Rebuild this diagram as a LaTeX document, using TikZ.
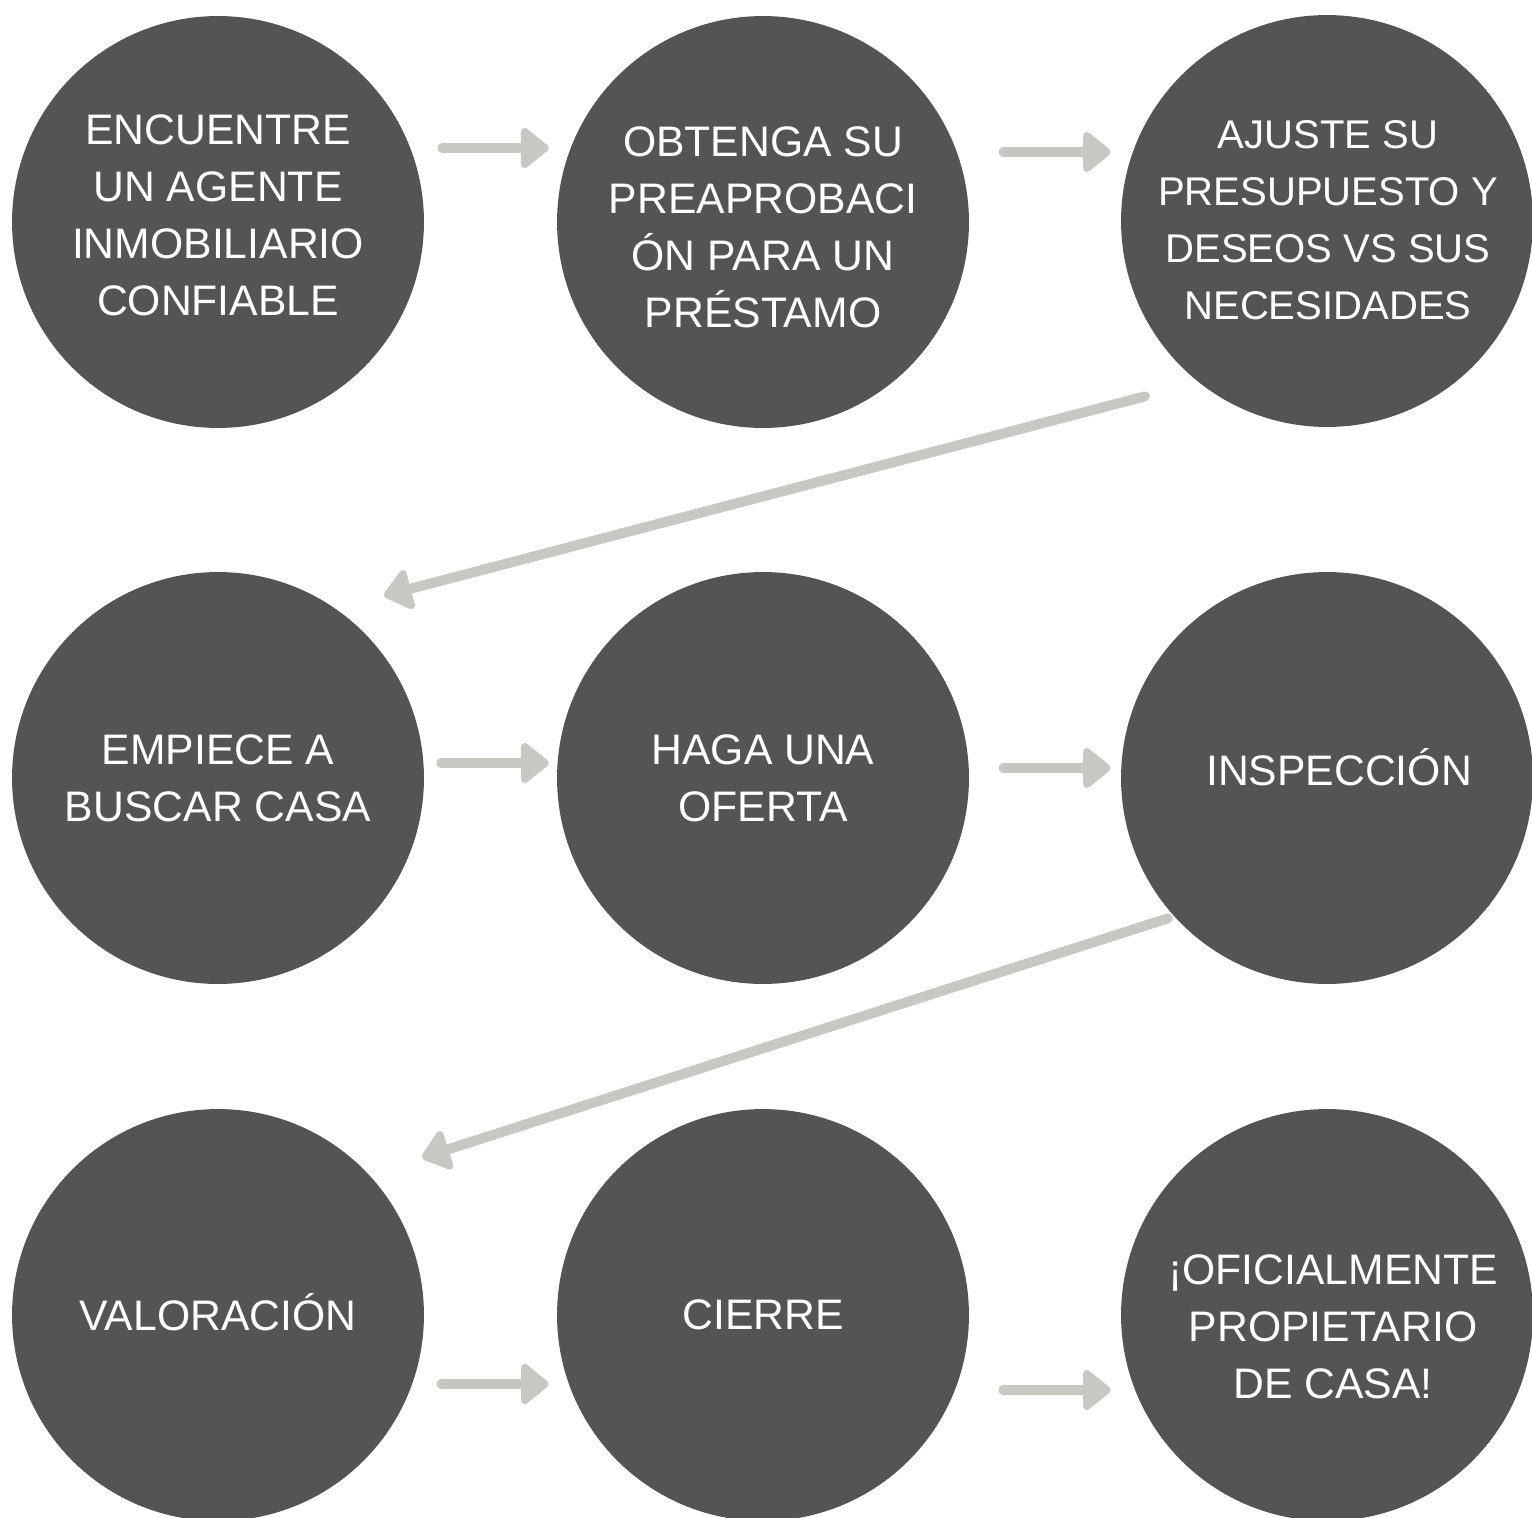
\documentclass[tikz,border=0pt]{standalone}
\usepackage{fontspec}
\setmainfont{Liberation Sans}
\usepackage{tikz}
\usetikzlibrary{arrows.meta,calc,positioning}
\definecolor{gris}{HTML}{545454}
\definecolor{claro}{HTML}{C8C7C2}

\tikzset{
  paso/.style={circle,fill=gris,minimum size=8.24cm,inner sep=0pt},
  txt/.style={text=white,align=center,inner sep=0pt,font=\fontsize{24.3}{32.4}\selectfont},
  txtchico/.style={txt,font=\fontsize{22.8}{32.4}\selectfont},
  flecha/.style={claro,line width=0.2cm,line cap=round,
    -{Triangle[round,length=0.6cm,width=0.92cm]}}
}

\begin{document}
\begin{tikzpicture}[x=0.02cm,y=-0.02cm]
  \useasboundingbox (0,0) rectangle (1532,1518);
  \foreach \n/\x/\y/\dx/\dy/\s/\t in {c1/218/222/0/-7/txt/{ENCUENTRE\\UN AGENTE\\INMOBILIARIO\\CONFIABLE},
      c2/763/222/0/5/txt/{OBTENGA SU\\PREAPROBACI\\ÓN PARA UN\\PRÉSTAMO},
      c3/1327/221/1/-1/txtchico/{AJUSTE SU\\PRESUPUESTO Y\\DESEOS VS SUS\\NECESIDADES},
      c4/218/778/0/0/txt/{EMPIECE A\\BUSCAR CASA},
      c5/763/778/0/0/txt/{HAGA UNA\\OFERTA},
      c6/1327/778/12/-11/txt/{INSPECCIÓN},
      c7/218/1315/0/-3/txt/{VALORACIÓN},
      c8/763/1315/0/0/txt/{CIERRE},
      c9/1327/1315/6/12/txt/{¡OFICIALMENTE\\PROPIETARIO\\DE CASA!}}{
    \node[paso] (\n) at (\x,\y) {};
    \node[\s] (\n t) at ($(\n)+(\dx,\dy)$) {\t};
  }
  % fila 1
  \draw[flecha] ([shift={(18,-74)}]c1.east) -- ([shift={(-8,-74)}]c2.west);
  \draw[flecha] ([shift={(34,-70)}]c2.east) -- ([shift={(-10,-69)}]c3.west);
  \draw[flecha] ([shift={(-182,-31)}]c3.south) -- ([shift={(166,24)}]c4.north);
  % fila 2
  \draw[flecha] ([shift={(17,-15)}]c4.east) -- ([shift={(-8,-15)}]c5.west);
  \draw[flecha] ([shift={(34,-10)}]c5.east) -- ([shift={(-10,-10)}]c6.west);
  \draw[flecha] ([shift={(-159,-66)}]c6.south) -- ([shift={(204,49)}]c7.north);
  % fila 3
  \draw[flecha] ([shift={(17,69)}]c7.east) -- ([shift={(-8,69)}]c8.west);
  \draw[flecha] ([shift={(34,75)}]c8.east) -- ([shift={(-10,75)}]c9.west);
\end{tikzpicture}
\end{document}
